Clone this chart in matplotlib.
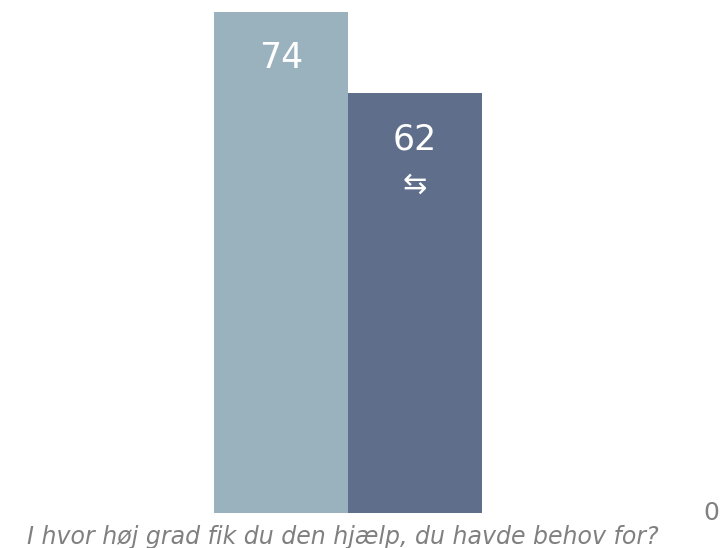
import matplotlib
matplotlib.use("Agg")
import matplotlib.pyplot as plt
import matplotlib.transforms as mtransforms

categories = ["I hvor høj grad fik du den hjælp, du havde behov for?"]
series_names = ["A", "B"]
values = [74, 62]
colors = ["#9AB2BE", "#5F6F8B"]
change_marker = [None, "⇆"]
axis_tick = [0]

W, H = 725, 548
fig = plt.figure(figsize=(W / 100, H / 100), dpi=100)

bar_w = 0.35
px_per_unit_x = 134 / bar_w
center_px = 348
ax_bottom_px = 513  # from top
px_per_unit_y = 501 / 74

ax = fig.add_axes([0, (H - ax_bottom_px) / H, 1, ax_bottom_px / H])
ax.set_xlim(-center_px / px_per_unit_x, (W - center_px) / px_per_unit_x)
ax.set_ylim(0, ax_bottom_px / px_per_unit_y)
ax.axis("off")

offsets = [-bar_w / 2, bar_w / 2]
for i, (v, c) in enumerate(zip(values, colors)):
    x = 0 + offsets[i]
    ax.bar(x, v, width=bar_w, color=c, linewidth=0)
    ax.annotate(str(v), (x, v), xytext=(0, -33), textcoords="offset points",
                ha="center", va="center", color="white", fontsize=25,
                family="DejaVu Sans")
    if change_marker[i]:
        ax.annotate(change_marker[i], (x, v), xytext=(0, -66), textcoords="offset points",
                    ha="center", va="center", color="white", fontsize=21,
                    family="DejaVu Sans")

ax.text(0, 0, categories[0], transform=mtransforms.offset_copy(ax.transData, fig=fig, x=-4, y=-17, units="points"),
        ha="center", va="center", fontsize=17, style="italic", color="#808080",
        family="DejaVu Sans", clip_on=False)

ax.text(0.981, axis_tick[0], str(axis_tick[0]),
        transform=mtransforms.offset_copy(mtransforms.blended_transform_factory(ax.transAxes, ax.transData),
                                          fig=fig, x=0, y=0, units="points"),
        ha="center", va="center", fontsize=18, color="#808080", family="DejaVu Sans", clip_on=False)

fig.savefig("out.png", dpi=100)
